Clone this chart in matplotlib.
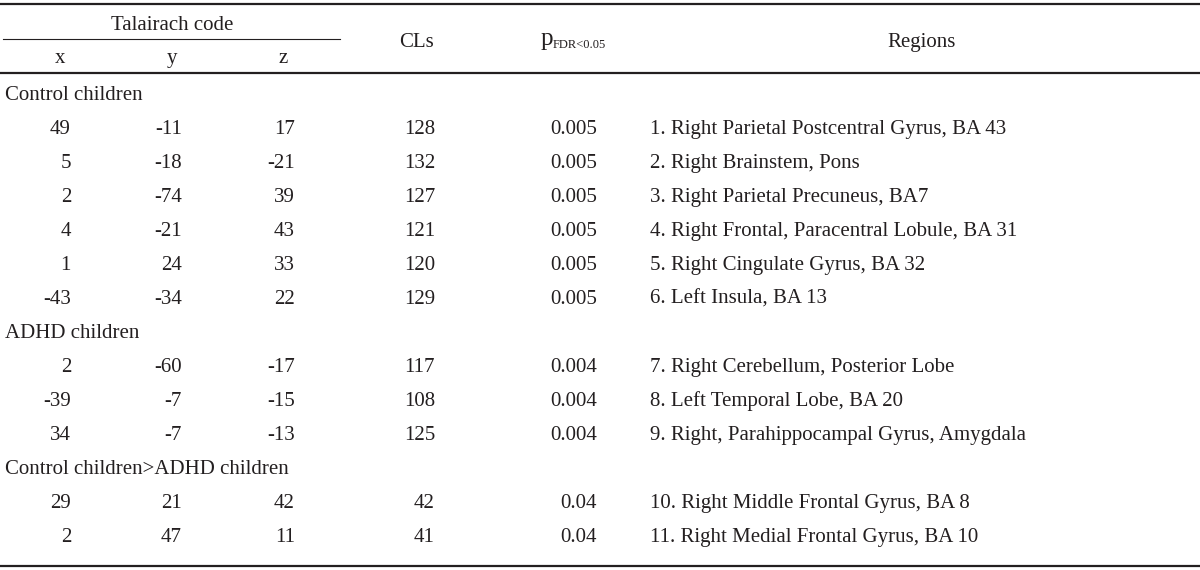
import matplotlib
matplotlib.use("Agg")
import matplotlib.pyplot as plt

# table data
groups = ["Control children", "ADHD children", "Control children>ADHD children"]
group_sizes = [6, 3, 2]
x_vals = [49, 5, 2, 4, 1, -43, 2, -39, 34, 29, 2]
y_vals = [-11, -18, -74, -21, 24, -34, -60, -7, -7, 21, 47]
z_vals = [17, -21, 39, 43, 33, 22, -17, -15, -13, 42, 11]
cls_vals = [128, 132, 127, 121, 120, 129, 117, 108, 125, 42, 41]
p_vals = ["0.005"] * 6 + ["0.004"] * 3 + ["0.04"] * 2
regions = [
    "1. Right Parietal Postcentral Gyrus, BA 43",
    "2. Right Brainstem, Pons",
    "3. Right Parietal Precuneus, BA7",
    "4. Right Frontal, Paracentral Lobule, BA 31",
    "5. Right Cingulate Gyrus, BA 32",
    "6. Left Insula, BA 13",
    "7. Right Cerebellum, Posterior Lobe",
    "8. Left Temporal Lobe, BA 20",
    "9. Right, Parahippocampal Gyrus, Amygdala",
    "10. Right Middle Frontal Gyrus, BA 8",
    "11. Right Medial Frontal Gyrus, BA 10",
]

plt.rcParams["font.family"] = ["Liberation Serif", "DejaVu Serif"]
FS = 15
ink = "#231f20"

fig = plt.figure(figsize=(12, 5.7), dpi=100)
ax = fig.add_axes([0, 0, 1, 1])
ax.set_xlim(0, 1200)
ax.set_ylim(570, 0)
ax.axis("off")

def cell(x, y, s, ha="left", size=FS):
    ax.text(x, y, s, ha=ha, va="baseline", fontsize=size, color=ink)

# rules
ax.plot([0, 1200], [4, 4], color=ink, lw=1.6)
ax.plot([3, 340], [39, 39], color=ink, lw=0.8)
ax.plot([0, 1200], [73, 73], color=ink, lw=1.6)
ax.plot([0, 1200], [566, 566], color=ink, lw=1.6)

# header
cell(172, 30, "Talairach code", ha="center")
for cx, lab in zip([60, 172, 283], ["x", "y", "z"]):
    cell(cx, 63, lab, ha="center")
cell(417, 47, "CLs", ha="center")
cell(553, 45, "p", ha="right", size=18)
cell(553, 48, "FDR<0.05", size=9)
cell(922, 47, "Regions", ha="center")

# body (baselines)
row_h = 34
y = 100
i = 0
for g, n in zip(groups, group_sizes):
    cell(5, y, g)
    y += row_h
    for _ in range(n):
        cell(71, y, str(x_vals[i]), ha="right")
        cell(182, y, str(y_vals[i]), ha="right")
        cell(295, y, str(z_vals[i]), ha="right")
        cell(435, y, str(cls_vals[i]), ha="right")
        cell(597, y, p_vals[i], ha="right")
        cell(650, y, regions[i])
        y += row_h
        i += 1

fig.savefig("out.png", dpi=100)
